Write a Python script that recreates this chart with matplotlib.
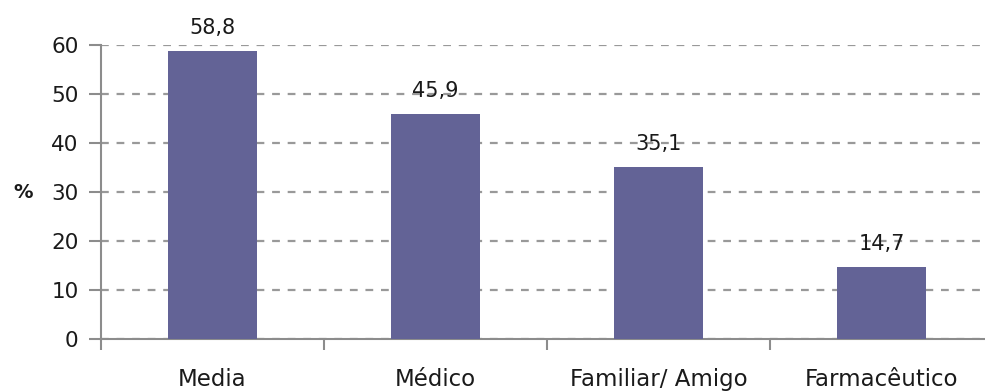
import matplotlib
matplotlib.use("Agg")
import matplotlib.pyplot as plt
from matplotlib.ticker import FixedLocator, NullFormatter

# source of information, % of respondents
categories = ["Media", "Médico", "Familiar/ Amigo", "Farmacêutico"]
values = [58.8, 45.9, 35.1, 14.7]
y_ticks = [0, 10, 20, 30, 40, 50, 60]

BAR_COLOR = "#636396"
GRID_COLOR = "#999999"
SPINE_COLOR = "#8c8c8c"
TEXT_COLOR = "#1a1a1a"

plt.rcParams["font.family"] = ["DejaVu Sans"]

fig = plt.figure(figsize=(9.85, 3.92), dpi=100)
ax = fig.add_axes([0.1025, 0.135, 0.9056, 0.75])

x = list(range(len(categories)))
ax.bar(x, values, width=0.4, color=BAR_COLOR, zorder=3)

# value labels above each bar, comma as decimal separator
for xi, v in zip(x, values):
    ax.text(xi, v + 2.6, f"{v:.1f}".replace(".", ","), ha="center", va="bottom",
            fontsize=15, color=TEXT_COLOR, zorder=4)

ax.set_xlim(-0.5, len(categories) - 0.5)
ax.set_ylim(0, 60)
ax.set_yticks(y_ticks)
ax.set_yticklabels([str(t) for t in y_ticks], fontsize=15.5, color=TEXT_COLOR)

# category names centred under the bars, tick marks on the boundaries
ax.set_xticks(x)
ax.set_xticklabels(categories, fontsize=16.5, color=TEXT_COLOR)
ax.tick_params(axis="x", which="major", length=0, pad=21)
ax.xaxis.set_minor_locator(FixedLocator([i - 0.5 for i in range(len(categories) + 1)]))
ax.xaxis.set_minor_formatter(NullFormatter())
ax.tick_params(axis="x", which="minor", length=8, width=1.5, color=SPINE_COLOR)
ax.tick_params(axis="y", length=9, width=1.5, color=SPINE_COLOR, pad=7)

ax.grid(axis="y", color=GRID_COLOR, linestyle=(0, (3.5, 3.5)), linewidth=1.6, zorder=0)
ax.set_axisbelow(True)

for side in ["top", "right"]:
    ax.spines[side].set_visible(False)
for side in ["left", "bottom"]:
    ax.spines[side].set_color(SPINE_COLOR)
    ax.spines[side].set_linewidth(1.5)

ax.set_ylabel("%", rotation=0, fontsize=14, fontweight="bold", color=TEXT_COLOR,
              labelpad=20, va="center")

fig.savefig("out.png", dpi=100)
